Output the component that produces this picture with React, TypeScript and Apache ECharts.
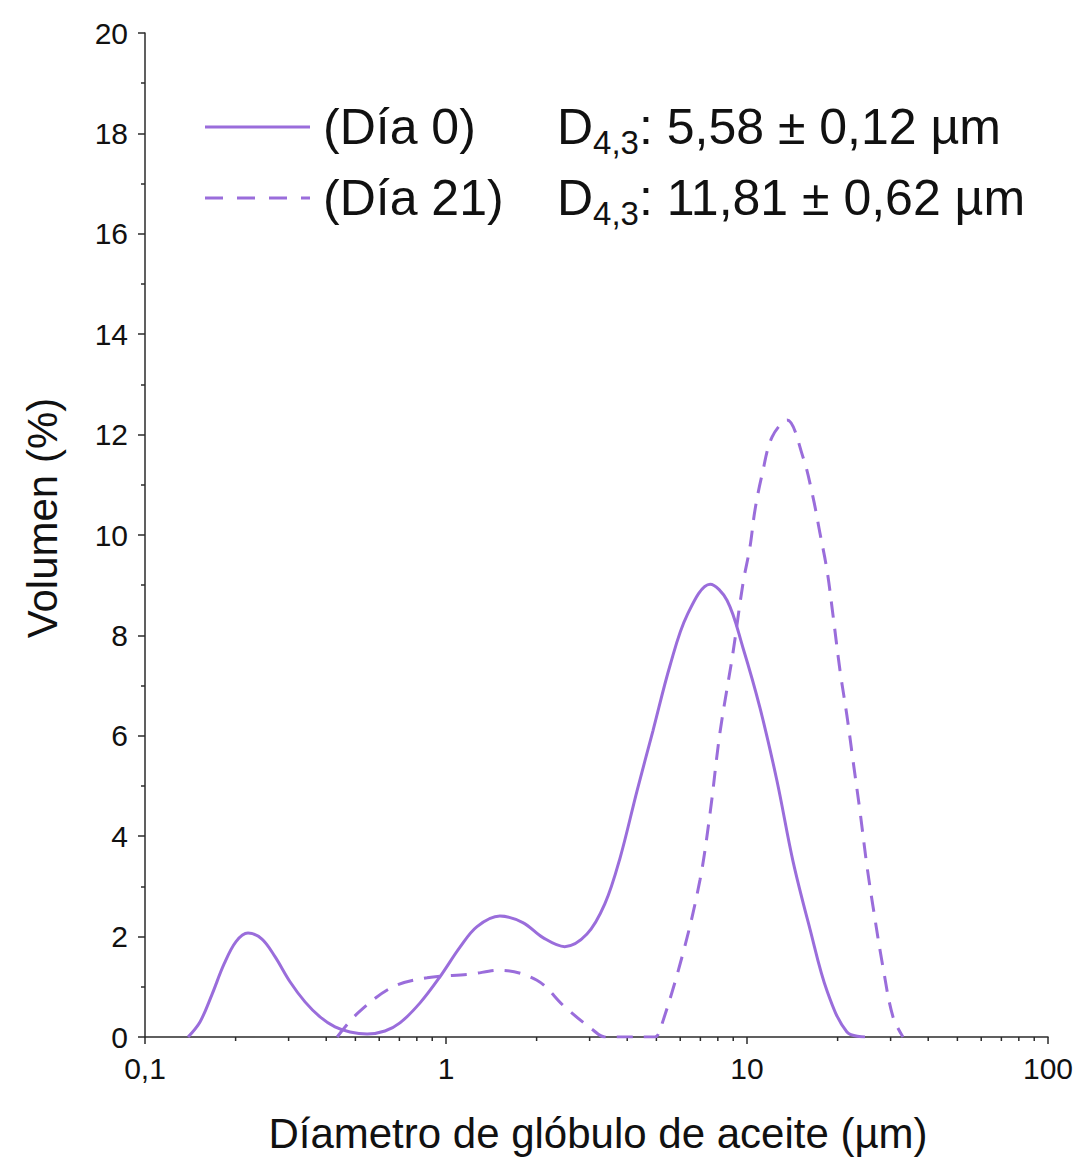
import React, { useEffect, useRef } from "react";
import * as echarts from "echarts";

// Día 0 (solid)
const day0X = [0.139, 0.1523, 0.167, 0.183, 0.2006, 0.2199, 0.2447, 0.2703, 0.3032, 0.3401, 0.3815, 0.4278, 0.4799, 0.547, 0.627, 0.703, 0.82, 0.955, 1.113, 1.268, 1.51, 1.8, 2.1, 2.48, 2.94, 3.37, 3.78, 4.31, 4.87, 5.55, 6.32, 7.54, 8.58, 9.7, 11.05, 12.58, 14.22, 16.19, 18.44, 21.48, 24.66];
const day0Y = [0, 0.3, 0.85, 1.45, 1.9, 2.07, 1.95, 1.6, 1.1, 0.7, 0.4, 0.2, 0.1, 0.06, 0.12, 0.28, 0.68, 1.2, 1.79, 2.2, 2.41, 2.28, 1.98, 1.8, 2.05, 2.65, 3.55, 4.9, 6.1, 7.4, 8.4, 9.02, 8.7, 7.75, 6.55, 5.1, 3.5, 2.15, 0.92, 0.1, 0];

// Día 21 (dashed)
const day21X = [0.435, 0.51, 0.667, 0.865, 1.2, 1.51, 2.005, 2.48, 3.08, 3.37, 4.94, 5.14, 6.13, 6.98, 7.54, 8.13, 8.98, 9.7, 10.23, 10.63, 11.22, 12.11, 13.58, 15.35, 16.56, 17.47, 18.44, 19.31, 20.37, 21.48, 22.51, 23.73, 25.04, 26.22, 28.3, 30.55, 32.98];
const day21Y = [0, 0.48, 1.0, 1.18, 1.25, 1.33, 1.13, 0.6, 0.14, 0, 0, 0.14, 1.67, 3.13, 4.46, 6.06, 7.65, 9.04, 9.76, 10.5, 11.2, 11.95, 12.29, 11.55, 10.76, 10.04, 9.3, 8.4, 7.3, 6.4, 5.5, 4.5, 3.4, 2.6, 1.39, 0.4, 0];

const minorX = [0.2, 0.3, 0.4, 0.5, 0.6, 0.7, 0.8, 0.9, 2, 3, 4, 5, 6, 7, 8, 9, 20, 30, 40, 50, 60, 70, 80, 90];

const legendNames = ["(Día 0)", "(Día 21)"];
const legendStats = ["5,58 ± 0,12 µm", "11,81 ± 0,62 µm"];

const PURPLE = "#9a6ddb";
const AXIS = "#2b2b2b";
const FONT = "Liberation Sans";

export default function App() {
  const ref = useRef<HTMLDivElement>(null);
  useEffect(() => {
    const chart = echarts.init(ref.current!, null, { renderer: "svg" });
    const zip = (xs: number[], ys: number[]) => xs.map((x, i) => [x, ys[i]]);
    const legendRow = (i: number, y: number) => [
      {
        type: "line",
        shape: { x1: 205, y1: y, x2: 310, y2: y },
        style: { stroke: PURPLE, lineWidth: 3, lineDash: i === 0 ? null : [18, 14] },
      },
      {
        type: "text",
        x: 323,
        y,
        style: {
          text: legendNames[i],
          fontSize: 50,
          fontFamily: FONT,
          fill: "#111",
          verticalAlign: "middle",
        },
      },
      {
        type: "text",
        x: 557,
        y,
        style: {
          text: `{d|D}{s|4,3}{d|: ${legendStats[i]}}`,
          verticalAlign: "middle",
          rich: {
            d: { fontSize: 50, fontFamily: FONT, fill: "#111" },
            s: { fontSize: 33, fontFamily: FONT, fill: "#111", padding: [30, 0, 0, 0] },
          },
        },
      },
    ];
    chart.setOption({
      animation: false,
      backgroundColor: "#fff",
      textStyle: { fontFamily: FONT },
      grid: { left: 145, right: 35, top: 33, bottom: 120 },
      xAxis: {
        type: "log",
        logBase: 10,
        min: 0.1,
        max: 100,
        axisLine: { lineStyle: { color: AXIS, width: 1.5 } },
        axisTick: { length: 7, lineStyle: { color: AXIS, width: 1.5 } },
        axisLabel: {
          fontSize: 30,
          fontFamily: FONT,
          color: "#111",
          margin: 16,
          formatter: (v: number) => String(v).replace(".", ","),
        },
        splitLine: { show: false },
      },
      yAxis: {
        type: "value",
        min: 0,
        max: 20,
        interval: 2,
        axisLine: { show: true, lineStyle: { color: AXIS, width: 1.5 } },
        axisTick: { show: true, length: 7, lineStyle: { color: AXIS, width: 1.5 } },
        minorTick: { show: true, splitNumber: 2, length: 4, lineStyle: { color: AXIS, width: 1.5 } },
        axisLabel: { fontSize: 30, fontFamily: FONT, color: "#111", margin: 17 },
        splitLine: { show: false },
      },
      graphic: [
        {
          type: "text",
          x: 42,
          y: 518,
          rotation: Math.PI / 2,
          style: {
            text: "Volumen (%)",
            fontSize: 42,
            fontFamily: FONT,
            fill: "#111",
            align: "center",
            verticalAlign: "middle",
          },
        },
        {
          type: "text",
          x: 598,
          y: 1133,
          style: {
            text: "Díametro de glóbulo de aceite (µm)",
            fontSize: 42,
            fontFamily: FONT,
            fill: "#111",
            align: "center",
            verticalAlign: "middle",
          },
        },
        ...legendRow(0, 127),
        ...legendRow(1, 198),
      ],
      series: [
        {
          type: "line",
          name: legendNames[0],
          data: zip(day0X, day0Y),
          smooth: 0.35,
          showSymbol: false,
          symbol: "none",
          lineStyle: { color: PURPLE, width: 3 },
        },
        {
          type: "line",
          name: legendNames[1],
          data: zip(day21X, day21Y),
          smooth: 0.35,
          showSymbol: false,
          symbol: "none",
          lineStyle: { color: PURPLE, width: 3, type: [16, 11] },
        },
        {
          type: "custom",
          data: minorX.map((x) => [x, 0]),
          clip: false,
          silent: true,
          renderItem: (params: any, api: any) => {
            const p = api.coord([api.value(0), 0]);
            return {
              type: "line",
              shape: { x1: p[0], y1: p[1], x2: p[0], y2: p[1] + 4 },
              style: { stroke: AXIS, lineWidth: 1.5 },
            };
          },
        },
      ],
    });
    return () => chart.dispose();
  }, []);
  return (
    <div
      ref={ref}
      style={{ position: "fixed", left: 0, top: 0, width: 1083, height: 1157, background: "#fff" }}
    />
  );
}
